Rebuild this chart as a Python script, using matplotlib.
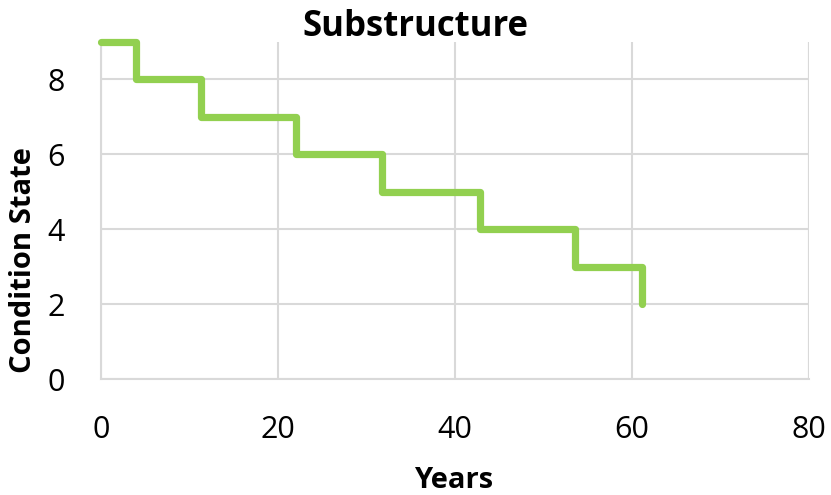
import matplotlib
matplotlib.use("Agg")
import matplotlib.pyplot as plt

# Data
years = [0, 4.0, 11.3, 22.0, 31.7, 42.8, 53.6, 61.1]
states = [9, 8, 7, 6, 5, 4, 3, 2]
x_ticks = [0, 20, 40, 60, 80]
y_ticks = [0, 2, 4, 6, 8]

plt.rcParams['font.family'] = ['Open Sans', 'DejaVu Sans']

fig = plt.figure(figsize=(8.31, 4.95), dpi=100)
ax = fig.add_axes([0.1215, 0.2337, 0.852, 0.6821])

ax.step(years, states, where='post', color='#92D050', linewidth=5.2,
        solid_joinstyle='round', solid_capstyle='round', zorder=3, clip_on=False)

ax.set_xlim(0, 80)
ax.set_ylim(0, 9)
ax.set_xticks(x_ticks)
ax.set_yticks(y_ticks)
ax.grid(True, color='#D9D9D9', linewidth=1.5)
ax.set_axisbelow(True)
for s in ['top', 'right']:
    ax.spines[s].set_visible(False)
for s in ['left', 'bottom']:
    ax.spines[s].set_color('#D9D9D9')
    ax.spines[s].set_linewidth(1.5)
ax.axvline(80, color='#D9D9D9', linewidth=1.5, zorder=0)
ax.tick_params(axis='both', length=0, labelsize=22, colors='black')
ax.tick_params(axis='x', pad=26)
ax.tick_params(axis='y', pad=26)

fig.text(415.5 / 831, 1 - 27 / 495, 'Substructure', fontsize=25, fontweight='bold',
         ha='center', va='center')
ax.set_xlabel('Years', fontsize=21, fontweight='bold')
ax.xaxis.set_label_coords((454 - 101) / 708, -(480 - 379.3) / 337.6)
ax.xaxis.label.set_va('center')
ax.set_ylabel('Condition State', fontsize=21, fontweight='bold')
ax.yaxis.set_label_coords((24 - 101) / 708, (379.3 - 260) / 337.6)
ax.yaxis.label.set_va('center')

fig.savefig('out.png', dpi=100)
